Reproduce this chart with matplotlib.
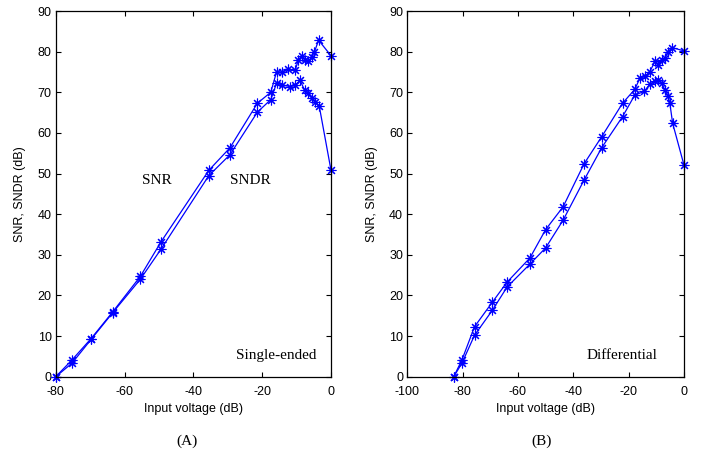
import matplotlib
matplotlib.use('Agg')
import matplotlib.pyplot as plt

plt.rcParams['axes.unicode_minus'] = False

# Single-ended (A)
se_x_snr = [-80, -75.3, -69.7, -63.4, -55.4, -49.4, -35.5, -29.4, -21.4, -17.5, -15.8, -14.3,
            -12.4, -10.4, -9.5, -8.5, -7.5, -6.6, -5.6, -4.8, -3.6, 0]
se_snr = [0, 4.1, 9.4, 16.0, 24.7, 33.2, 50.8, 56.3, 67.3, 70.0, 75.1, 74.9,
          75.7, 75.4, 78.0, 79.0, 78.0, 77.6, 78.8, 80.0, 82.8, 79.0]
se_x_sndr = [-80, -75.3, -69.7, -63.4, -55.4, -49.4, -35.5, -29.4, -21.4, -17.5, -15.8, -14.3,
             -11.9, -10.4, -9.0, -7.7, -6.7, -5.6, -4.6, -3.4, 0]
se_sndr = [0, 3.3, 9.2, 15.8, 24.0, 31.4, 49.5, 54.6, 65.1, 68.2, 72.3, 71.8,
           71.4, 71.8, 72.9, 70.6, 69.8, 68.6, 67.7, 66.5, 50.8]

# Differential (B)
df_x_snr = [-83.2, -80.2, -75.7, -69.3, -63.9, -55.7, -50, -43.7, -36.1, -29.7, -22.2, -17.8,
            -15.9, -14.1, -12.3, -10.5, -9.3, -8.1, -6.9, -5.7, -4.4, 0]
df_snr = [0, 4.2, 12.3, 18.3, 23.3, 29.2, 36.2, 41.8, 52.4, 59.1, 67.3, 70.7,
          73.5, 73.9, 75.1, 77.6, 76.8, 78.0, 78.4, 80.0, 81.0, 80.2]
df_x_sndr = [-83.2, -80.2, -75.7, -69.3, -63.9, -55.7, -50, -43.7, -36.1, -29.7, -22.2, -17.8,
             -14.4, -12.3, -10.5, -9.3, -8.1, -6.9, -5.7, -5.1, -4.1, 0]
df_sndr = [0, 3.4, 10.2, 16.3, 22.1, 27.7, 31.7, 38.5, 48.4, 56.4, 64.0, 69.3,
           70.2, 72.0, 72.7, 73.1, 72.3, 70.6, 69.0, 67.3, 62.4, 52.1]

sans = 'Liberation Sans'
serif = 'Liberation Serif'

fig = plt.figure(figsize=(7.01, 4.57), dpi=100)
ax1 = fig.add_axes([0.0795, 0.1757, 0.3927, 0.8002])
ax2 = fig.add_axes([0.581, 0.1757, 0.3947, 0.8002])

# style des courbes: ligne bleue fine avec asterisques
style = dict(color='blue', linewidth=0.9, marker=(8, 2, 0), markersize=7,
             markeredgewidth=0.8, clip_on=False)

ax1.plot(se_x_snr, se_snr, **style)
ax1.plot(se_x_sndr, se_sndr, **style)
ax2.plot(df_x_snr, df_snr, **style)
ax2.plot(df_x_sndr, df_sndr, **style)

for ax, xmin in [(ax1, -80), (ax2, -100)]:
    ax.set_xlim(xmin, 0)
    ax.set_ylim(0, 90)
    ax.set_xticks(range(xmin, 1, 20))
    ax.set_yticks(range(0, 91, 10))
    ax.tick_params(direction='in', top=True, right=True, length=3.5, width=0.8,
                   labelsize=9)
    ax.tick_params(axis='x', pad=7)
    ax.tick_params(axis='y', pad=3)
    for lab in ax.get_xticklabels() + ax.get_yticklabels():
        lab.set_fontfamily(sans)
    for s in ax.spines.values():
        s.set_linewidth(0.9)
    ax.set_xlabel('Input voltage (dB)', fontsize=9, family=sans, labelpad=3)
    ax.set_ylabel('SNR, SNDR (dB)', fontsize=9, family=sans, labelpad=8)

ax1.text(-50.5, 48.2, 'SNR', fontsize=11, family=serif, ha='center', va='center')
ax1.text(-23.5, 48.2, 'SNDR', fontsize=11, family=serif, ha='center', va='center')
ax1.text(-16.0, 5.1, 'Single-ended', fontsize=11, family=serif, ha='center', va='center')
ax2.text(-22.3, 5.1, 'Differential', fontsize=11, family=serif, ha='center', va='center')

fig.text(187 / 701, 1 - 441 / 457, '(A)', fontsize=11, family=serif, ha='center', va='center')
fig.text(542 / 701, 1 - 441 / 457, '(B)', fontsize=11, family=serif, ha='center', va='center')

plt.savefig('out.png', dpi=100)
plt.close()
